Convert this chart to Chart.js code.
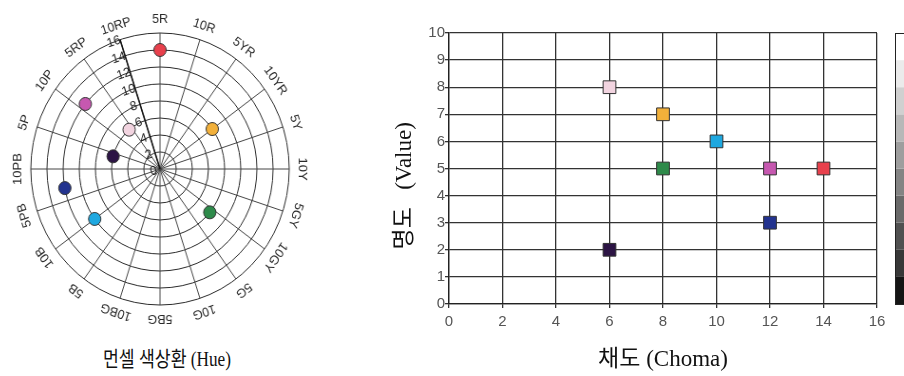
<!DOCTYPE html>
<html>
<head>
<meta charset="utf-8">
<script src="https://cdn.jsdelivr.net/npm/chart.js@4.4.1/dist/chart.umd.min.js"></script>
<style>
  html, body { margin: 0; padding: 0; background: #fff; width: 904px; height: 376px; overflow: hidden; }
  #hueBox { position: absolute; left: 0; top: 0; width: 320px; height: 340px; transform: scaleX(0.95); transform-origin: 160px 0; }
  #scBox  { position: absolute; left: 390px; top: 0; width: 514px; height: 376px; }
  #hueTitle { position: absolute; left: 40px; width: 254px; top: 342px; text-align: center; color: #111;
              font: 21px 'Liberation Serif', 'Noto Sans CJK KR', serif; transform: scaleX(0.82); }
</style>
</head>
<body>
<div id="hueBox"><canvas id="hue"></canvas></div>
<div id="hueTitle">먼셀 색상환 (Hue)</div>
<div id="scBox"><canvas id="sc"></canvas></div>
<script>
// Munsell hue circle: 20 named hues, 100 hue steps round the circle
const HUES = ['5R','10R','5YR','10YR','5Y','10Y','5GY','10GY','5G','10G',
              '5BG','10BG','5B','10B','5PB','10PB','5P','10P','5RP','10RP'];
const STEPS_PER_HUE = 5;
const AXIS_HUE = '10RP';

// the eight sample colours
const HUE_STEP = [0, 15, 36, 65, 72, 79, 89, 86];
const CHROMA   = [14, 8, 8, 10, 12, 6, 6, 12];
const VALUE    = [5, 7, 5, 6, 3, 2, 8, 5];
const COLORS   = ['#e8404c', '#f2b03a', '#2e8a4a', '#1ea8e0', '#23338f', '#2c1444', '#f2d4e0', '#c658b0'];

// value scale strip, from value 0-1 up to 9-10
const GRAYS = ['#151515', '#383838', '#505050', '#6a6a6a', '#848484', '#9e9e9e', '#b8b8b8', '#d0d0d0', '#ebebeb', '#ffffff'];

const sans  = "'Liberation Sans', Arial, sans-serif";
const serif = "'Liberation Serif', 'Noto Sans CJK KR', serif";

// ---- hue circle (radar) ----
const nSteps = HUES.length * STEPS_PER_HUE;
const hueLabels = Array.from({ length: nSteps }, (_, i) => i % STEPS_PER_HUE ? '' : HUES[i / STEPS_PER_HUE]);
const radarData = hueLabels.map(() => null);
const radarColors = hueLabels.map(() => 'transparent');
HUE_STEP.forEach((h, k) => { radarData[h] = CHROMA[k]; radarColors[h] = COLORS[k]; });
const axisIdx = HUES.indexOf(AXIS_HUE) * STEPS_PER_HUE;

const hueDecor = {
  id: 'hueDecor',
  beforeDatasetsDraw(chart) {
    const r = chart.scales.r, ctx = chart.ctx;
    ctx.save();
    // chroma axis along 10RP
    const end = r.getPointPosition(axisIdx, r.drawingArea);
    ctx.strokeStyle = '#111'; ctx.lineWidth = 1.5;
    ctx.beginPath(); ctx.moveTo(r.xCenter, r.yCenter); ctx.lineTo(end.x, end.y); ctx.stroke();

    ctx.fillStyle = '#222';
    ctx.textAlign = 'center'; ctx.textBaseline = 'middle';
    ctx.font = '13px ' + sans;
    const a = r.getIndexAngle(axisIdx);
    r.ticks.forEach(t => {
      const p = r.getPointPosition(axisIdx, r.getDistanceFromCenterForValue(t.value));
      ctx.save(); ctx.translate(p.x, p.y); ctx.rotate(a);
      ctx.fillText(String(t.value), -7, 0);
      ctx.restore();
    });

    // hue names, turned along the ring
    ctx.fillStyle = '#2a2a2a';
    ctx.font = '13px ' + sans;
    hueLabels.forEach((lab, i) => {
      if (!lab) return;
      const p = r.getPointPosition(i, r.drawingArea + 14);
      ctx.save(); ctx.translate(p.x, p.y); ctx.rotate(r.getIndexAngle(i));
      ctx.fillText(lab, 0, 0);
      ctx.restore();
    });
    ctx.restore();
  }
};

new Chart(document.getElementById('hue'), {
  type: 'radar',
  plugins: [hueDecor],
  data: {
    labels: hueLabels,
    datasets: [{ data: radarData, showLine: false, fill: false, backgroundColor: 'transparent',
                 pointBackgroundColor: radarColors, pointBorderColor: '#333', pointBorderWidth: 1,
                 pointRadius: 6.5, pointHoverRadius: 6.5 }]
  },
  options: {
    animation: false, responsive: true, maintainAspectRatio: false,
    layout: { padding: { top: 33, bottom: 35, left: 24, right: 24 } },
    plugins: { legend: { display: false }, tooltip: { enabled: false } },
    scales: {
      r: {
        min: 0, max: 16,
        ticks: { display: false, stepSize: 2 },
        pointLabels: { display: false },
        grid: { circular: true, color: '#2a2a2a', lineWidth: 1 },
        angleLines: {
          color: c => c.index % STEPS_PER_HUE ? 'transparent' : '#444',
          lineWidth: c => c.index % STEPS_PER_HUE ? 0 : 1
        }
      }
    }
  }
});

// ---- chroma / value scatter ----
const grayStrip = {
  id: 'grayStrip',
  afterDraw(chart) {
    const y = chart.scales.y, ctx = chart.ctx;
    const x0 = 505, w = 20;
    ctx.save();
    GRAYS.forEach((g, v) => {
      const top = y.getPixelForValue(v + 1), bot = y.getPixelForValue(v);
      ctx.fillStyle = g;
      ctx.fillRect(x0, top, w, bot - top);
    });
    ctx.strokeStyle = '#222'; ctx.lineWidth = 1;
    ctx.strokeRect(x0 + 0.5, y.getPixelForValue(10) + 0.5, w, y.getPixelForValue(0) - y.getPixelForValue(10));
    ctx.restore();
  }
};

new Chart(document.getElementById('sc'), {
  type: 'scatter',
  plugins: [grayStrip],
  data: {
    datasets: [{ data: CHROMA.map((c, k) => ({ x: c, y: VALUE[k] })),
                 pointStyle: 'rect', pointRadius: 9, pointHoverRadius: 9,
                 pointBackgroundColor: COLORS, pointBorderColor: '#333', pointBorderWidth: 1 }]
  },
  options: {
    animation: false, responsive: true, maintainAspectRatio: false,
    layout: { padding: { top: 33, right: 27, left: 0, bottom: 0 } },
    plugins: { legend: { display: false }, tooltip: { enabled: false } },
    scales: {
      x: {
        min: 0, max: 16,
        afterFit: s => { s.height = 72; },
        ticks: { stepSize: 2, color: '#555', padding: 5, font: { family: sans, size: 15 } },
        grid: { color: '#333', lineWidth: 1.3, tickLength: 4 },
        border: { color: '#222', width: 1.3 },
        title: { display: true, text: '채도 (Choma)', color: '#111', padding: { top: 0, bottom: 2 },
                 font: { family: serif, size: 23 } }
      },
      y: {
        min: 0, max: 10,
        afterFit: s => { s.width = 59; },
        ticks: { stepSize: 1, color: '#555', padding: 0, font: { family: sans, size: 15 } },
        grid: { color: '#333', lineWidth: 1.3, tickLength: 4 },
        border: { color: '#222', width: 1.3 },
        title: { display: true, text: '명도   (Value)\u2003\u2002', color: '#111', padding: { top: 1, bottom: 0 },
                 font: { family: serif, size: 23 } }
      }
    }
  }
});
</script>
</body>
</html>
